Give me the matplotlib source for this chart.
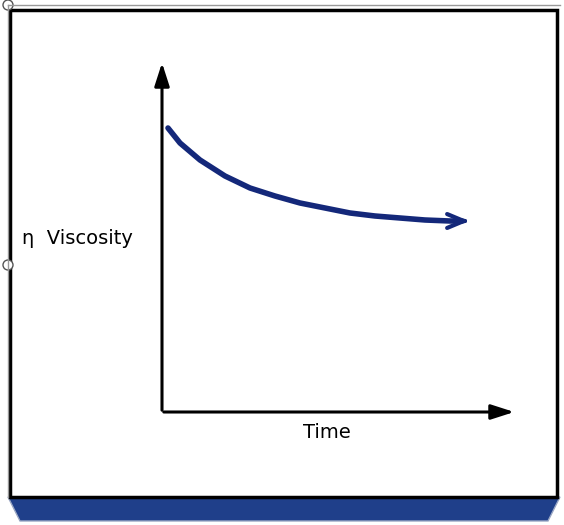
import matplotlib
matplotlib.use("Agg")
import matplotlib.pyplot as plt
from matplotlib.patches import Rectangle, Polygon, Circle

# curve (pixel-space diagram coordinates)
curve_x = [168, 180, 200, 225, 250, 275, 300, 325, 350, 375, 400, 425, 450, 462]
curve_y = [128, 143, 160, 176, 188, 196, 203, 208, 213, 216, 218, 220, 221, 221]
y_label = "η  Viscosity"
x_label = "Time"

fig = plt.figure(figsize=(5.64, 5.25), dpi=100)
ax = fig.add_axes([0, 0, 1, 1])
ax.set_xlim(0, 564); ax.set_ylim(525, 0); ax.axis("off")

# bottom blue bar with bevel
ax.add_patch(Polygon([[8, 497], [560, 497], [548, 521], [20, 521]], closed=True,
                     facecolor="#1f3f8a", edgecolor="#9aa7c4", lw=1))
ax.add_patch(Rectangle((10, 10), 547, 487, fill=False, edgecolor="black", lw=2.5))
ax.plot([8, 8], [5, 497], color="#999999", lw=1)
ax.plot([8, 560], [5, 5], color="#999999", lw=1)
for cy in (5, 265):
    ax.add_patch(Circle((8, cy), 5, facecolor="white", edgecolor="#555555", lw=1))

# axes arrows
ax.annotate("", xy=(162, 60), xytext=(162, 413),
            arrowprops=dict(arrowstyle="-|>,head_length=1.4,head_width=0.45", color="black", lw=2.2))
ax.annotate("", xy=(517, 412), xytext=(161, 412),
            arrowprops=dict(arrowstyle="-|>,head_length=1.4,head_width=0.45", color="black", lw=2.2))

# curve
ax.plot(curve_x, curve_y, color="#14287a", lw=4, solid_capstyle="round")
ax.annotate("", xy=(472, 221), xytext=(curve_x[-1] - 2, curve_y[-1]),
            arrowprops=dict(arrowstyle="->,head_length=1.2,head_width=0.5", color="#14287a", lw=3))

ax.text(22, 238, y_label, fontsize=14, va="center", ha="left", family="DejaVu Sans")
ax.text(327, 433, x_label, fontsize=14, va="center", ha="center")

fig.savefig("out.png", dpi=100)
